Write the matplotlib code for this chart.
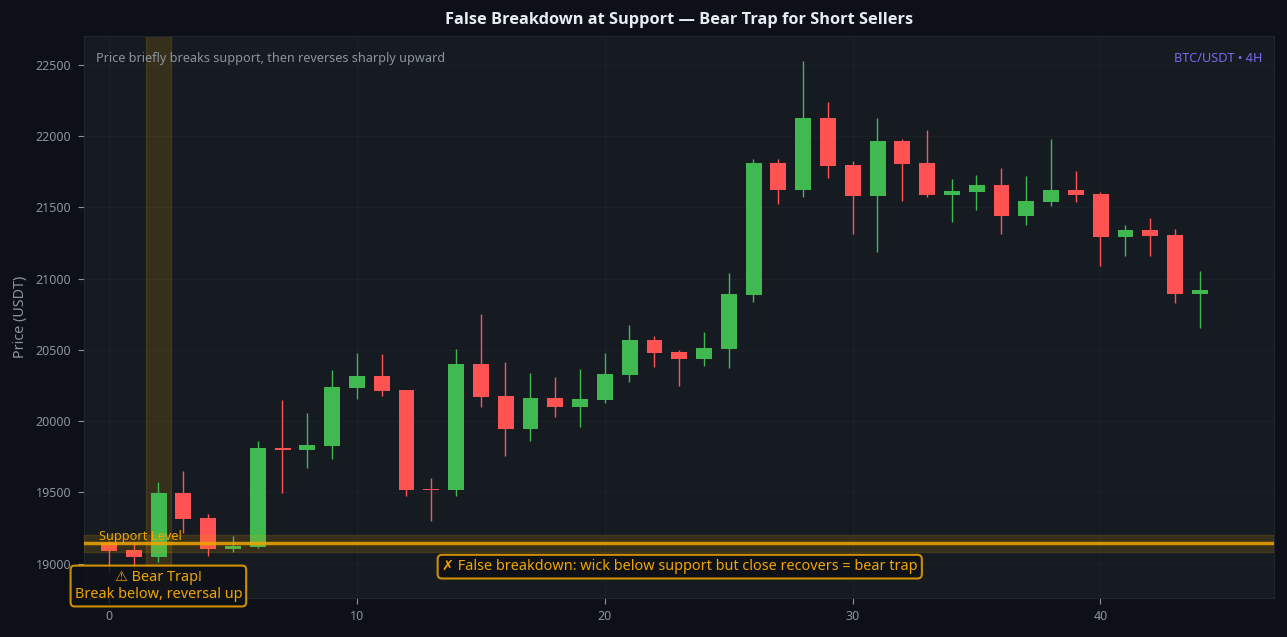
import matplotlib
matplotlib.use('Agg')
import matplotlib.pyplot as plt
from matplotlib.patches import Rectangle

plt.rcParams['font.family'] = ['Noto Sans', 'DejaVu Sans']

# candle values
opens = [19144, 19095, 19046, 19495, 19320, 19102, 19116, 19811, 19797, 19825,
         20235, 20317, 20219, 19525, 19516, 20401, 20177, 19945, 20163, 20099,
         20149, 20324, 20570, 20486, 20437, 20507, 20886, 21814, 21624, 22130,
         21800, 21582, 21968, 21814, 21589, 21610, 21659, 21441, 21540, 21624,
         21596, 21294, 21343, 21308, 20893]
highs = [19160, 19142, 19572, 19650, 19348, 19193, 19861, 20149, 20057, 20359,
         20481, 20474, 20219, 19601, 20507, 20753, 20416, 20338, 20310, 20366,
         20479, 20675, 20598, 20500, 20626, 21041, 21842, 21842, 22530, 22242,
         21828, 22130, 21982, 22045, 21701, 21729, 21778, 21722, 21982, 21757,
         21610, 21378, 21427, 21350, 21055]
lows = [18933, 18960, 19010, 19214, 19053, 19081, 19109, 19495, 19671, 19734,
        20156, 20177, 19474, 19299, 19474, 20099, 19755, 19861, 20029, 19959,
        20128, 20275, 20380, 20247, 20387, 20373, 20837, 21525, 21575, 21708,
        21315, 21188, 21547, 21575, 21399, 21483, 21315, 21378, 21511, 21540,
        21090, 21160, 21160, 20830, 20654]
closes = [19088, 19046, 19495, 19313, 19102, 19123, 19811, 19795, 19832, 20240,
          20317, 20212, 19516, 19516, 20401, 20170, 19945, 20163, 20099, 20156,
          20331, 20570, 20479, 20437, 20514, 20893, 21814, 21624, 22130, 21792,
          21582, 21968, 21807, 21589, 21617, 21659, 21441, 21547, 21624, 21589,
          21294, 21343, 21301, 20893, 20921]

support = 19142
band = 60
trap_bar = 2

BG = '#0d1017'
PANEL = '#161b22'
GREEN = '#3fb950'
RED = '#ff5252'
GOLD = '#f0a500'
GREY = '#8b949e'

fig = plt.figure(figsize=(12.87, 6.37), dpi=100, facecolor=BG)
ax = fig.add_axes([84/1287, 1-598/637, (1274-84)/1287, (598-36)/637], facecolor=PANEL)

for i in range(len(opens)):
    col = GREEN if closes[i] >= opens[i] else RED
    ax.vlines(i, lows[i], highs[i], color=col, lw=1, zorder=2)
    bottom = min(opens[i], closes[i])
    height = abs(closes[i]-opens[i])
    ax.add_patch(Rectangle((i-0.31, bottom), 0.64, height, facecolor=col, edgecolor='none', zorder=3))

# trap candle highlight and support zone
ax.axvspan(trap_bar-0.5, trap_bar+0.5, color=GOLD, alpha=0.15, zorder=1)
ax.axhspan(support-band, support+band, color=GOLD, alpha=0.15, zorder=4)
ax.axhline(support, color=GOLD, lw=2.5, alpha=0.85, zorder=5)

ax.text(-0.39, support, 'Support Level', color=GOLD, fontsize=9.2, va='bottom', zorder=6)

ax.text(2, 18842, '⚠ Bear Trap!\nBreak below, reversal up', color=GOLD, fontsize=10.4, ha='center', va='center',
        linespacing=1.25, zorder=7, clip_on=False,
        bbox=dict(boxstyle='round,pad=0.28', facecolor=BG, edgecolor=GOLD, lw=1.5, alpha=0.85))
ax.text(23.03, 18978, '✗ False breakdown: wick below support but close recovers = bear trap', color=GOLD,
        fontsize=10.4, ha='center', va='center', zorder=7,
        bbox=dict(boxstyle='round,pad=0.3', facecolor=BG, edgecolor=GOLD, lw=1.5, alpha=0.85))

ax.text(0.01, 0.96, 'Price briefly breaks support, then reverses sharply upward', transform=ax.transAxes,
        color=GREY, fontsize=9.12, va='center')
ax.text(0.99, 0.96, 'BTC/USDT • 4H', transform=ax.transAxes, color='#7b68ee', fontsize=9.1, ha='right', va='center')

ax.set_xlim(-1, 47)
ax.set_ylim(18758, 22703)
ax.set_xticks([0, 10, 20, 30, 40])
ax.set_yticks(range(19000, 23000, 500))
ax.grid(color='#21262d', lw=0.6, alpha=0.7, zorder=0)
ax.set_axisbelow(True)
ax.tick_params(colors=GREY, labelsize=9, length=4, width=0.8, pad=5)
for s in ax.spines.values():
    s.set_color('#21262d')
ax.set_ylabel('Price (USDT)', color=GREY, fontsize=10.3, labelpad=6)

fig.text((84+1274)/2/1287, 1-20.5/637, 'False Breakdown at Support — Bear Trap for Short Sellers', color='#e6edf3',
         fontsize=11.8, fontweight='bold', family=['Open Sans', 'Noto Sans', 'DejaVu Sans'], ha='center', va='center')

fig.savefig('out.png', dpi=100, facecolor=BG)
